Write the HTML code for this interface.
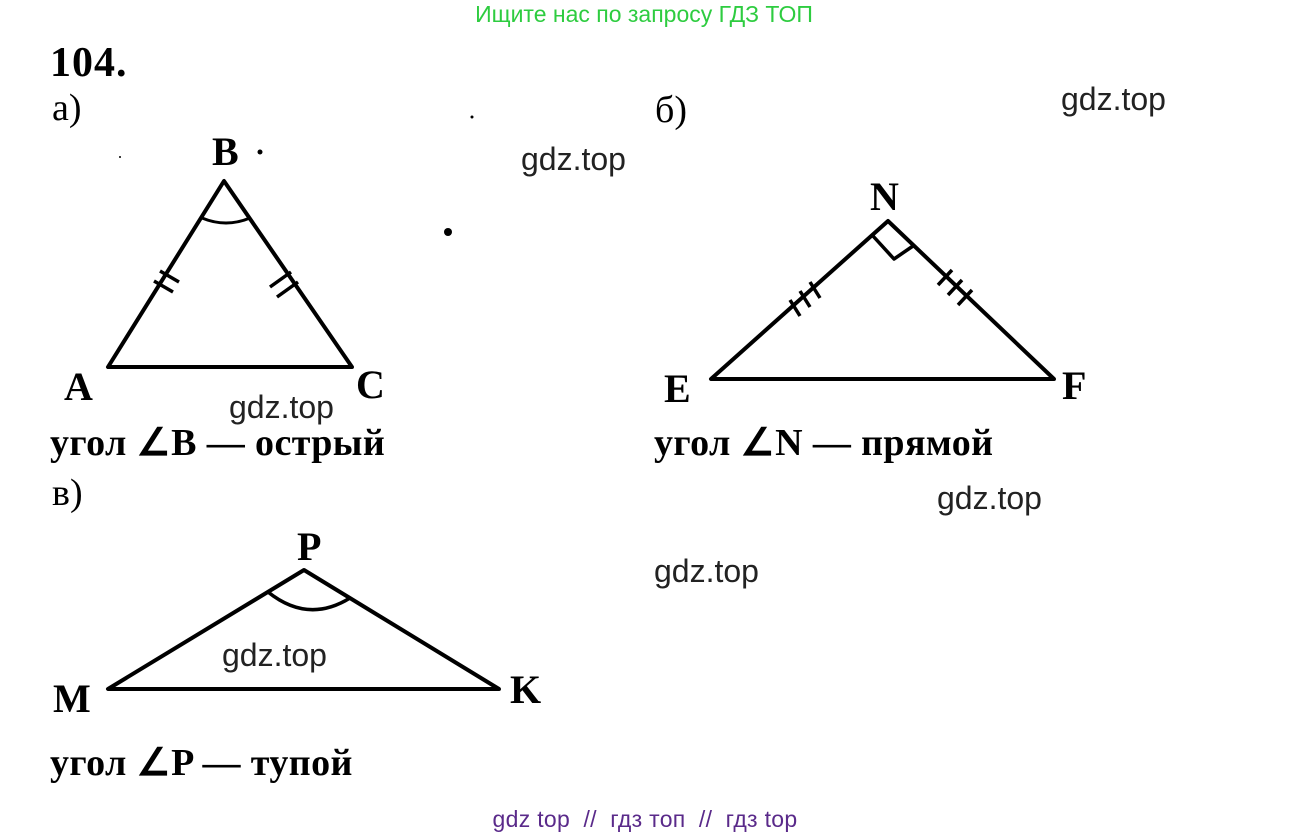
<!DOCTYPE html>
<html><head><meta charset="utf-8"><style>
body{margin:0;background:#fff;width:1291px;height:837px;overflow:hidden}
svg{position:absolute;left:0;top:0}
.s{font-family:"Liberation Serif",serif;fill:#000}
.w{font-family:"Liberation Sans",sans-serif;font-size:32px;fill:#222}
</style></head><body>
<svg width="1291" height="837" viewBox="0 0 1291 837">
<text x="644" y="22" text-anchor="middle" font-family="Liberation Sans,sans-serif" font-size="23" fill="#2ecc40">Ищите нас по запросу ГДЗ ТОП</text>
<text class="s" x="50" y="76" font-size="42" font-weight="bold" letter-spacing="1">104.</text>
<text class="s" x="52" y="120" font-size="38">а)</text>
<text class="s" x="655" y="122" font-size="38">б)</text>
<text class="s" x="52" y="505" font-size="38">в)</text>
<g stroke="#000" stroke-width="4" fill="none" stroke-linejoin="round">
<path d="M224,181 L108,367 L352,367 Z"/>
<path d="M202,218 Q226,228 250,218" stroke-width="3"/>
<path d="M154,281 L173,292 M160,271 L179,282 M270,287 L291,272 M277,297 L298,282" stroke-width="3.5"/>
<path d="M888,221 L711,379 L1054,379 Z"/>
<path d="M873,236 L894,259 L913,246" stroke-width="3.5"/>
<path d="M790,300 L800,316 M800,291 L810,307 M810,282 L820,298 M938,285 L952,270 M948,295 L962,280 M958,305 L972,290" stroke-width="3.5"/>
<path d="M304,570 L108,689 L499,689 Z"/>
<path d="M268,592 Q308,624 350,598" stroke-width="3.5"/>
</g>
<g font-weight="bold">
<text class="s" x="212" y="165" font-size="40">B</text>
<text class="s" x="64" y="400" font-size="40">A</text>
<text class="s" x="356" y="398" font-size="40">C</text>
<text class="s" x="870" y="210" font-size="40">N</text>
<text class="s" x="664" y="402" font-size="40">E</text>
<text class="s" x="1062" y="399" font-size="40">F</text>
<text class="s" x="297" y="560" font-size="40">P</text>
<text class="s" x="53" y="712" font-size="40">M</text>
<text class="s" x="510" y="703" font-size="40">K</text>
</g>
<text class="s" x="50" y="455" font-size="38" font-weight="bold" letter-spacing="0.4">угол ∠B — острый</text>
<text class="s" x="654" y="455" font-size="38" font-weight="bold" letter-spacing="0.4">угол ∠N — прямой</text>
<text class="s" x="50" y="775" font-size="38" font-weight="bold" letter-spacing="0.4">угол ∠P — тупой</text>
<text class="w" x="521" y="170">gdz.top</text>
<text class="w" x="1061" y="110">gdz.top</text>
<text class="w" x="229" y="418">gdz.top</text>
<text class="w" x="937" y="509">gdz.top</text>
<text class="w" x="654" y="582">gdz.top</text>
<text class="w" x="222" y="666">gdz.top</text>
<text x="645" y="827" text-anchor="middle" font-family="Liberation Sans,sans-serif" font-size="23" fill="#5a2a8a" xml:space="preserve" letter-spacing="0.3">gdz top  //  гдз топ  //  гдз top</text>
<g fill="#000"><circle cx="260" cy="152" r="2.5"/><circle cx="448" cy="232" r="4"/><circle cx="472" cy="117" r="1.5"/><circle cx="120" cy="157" r="1"/></g>
</svg>
</body></html>
